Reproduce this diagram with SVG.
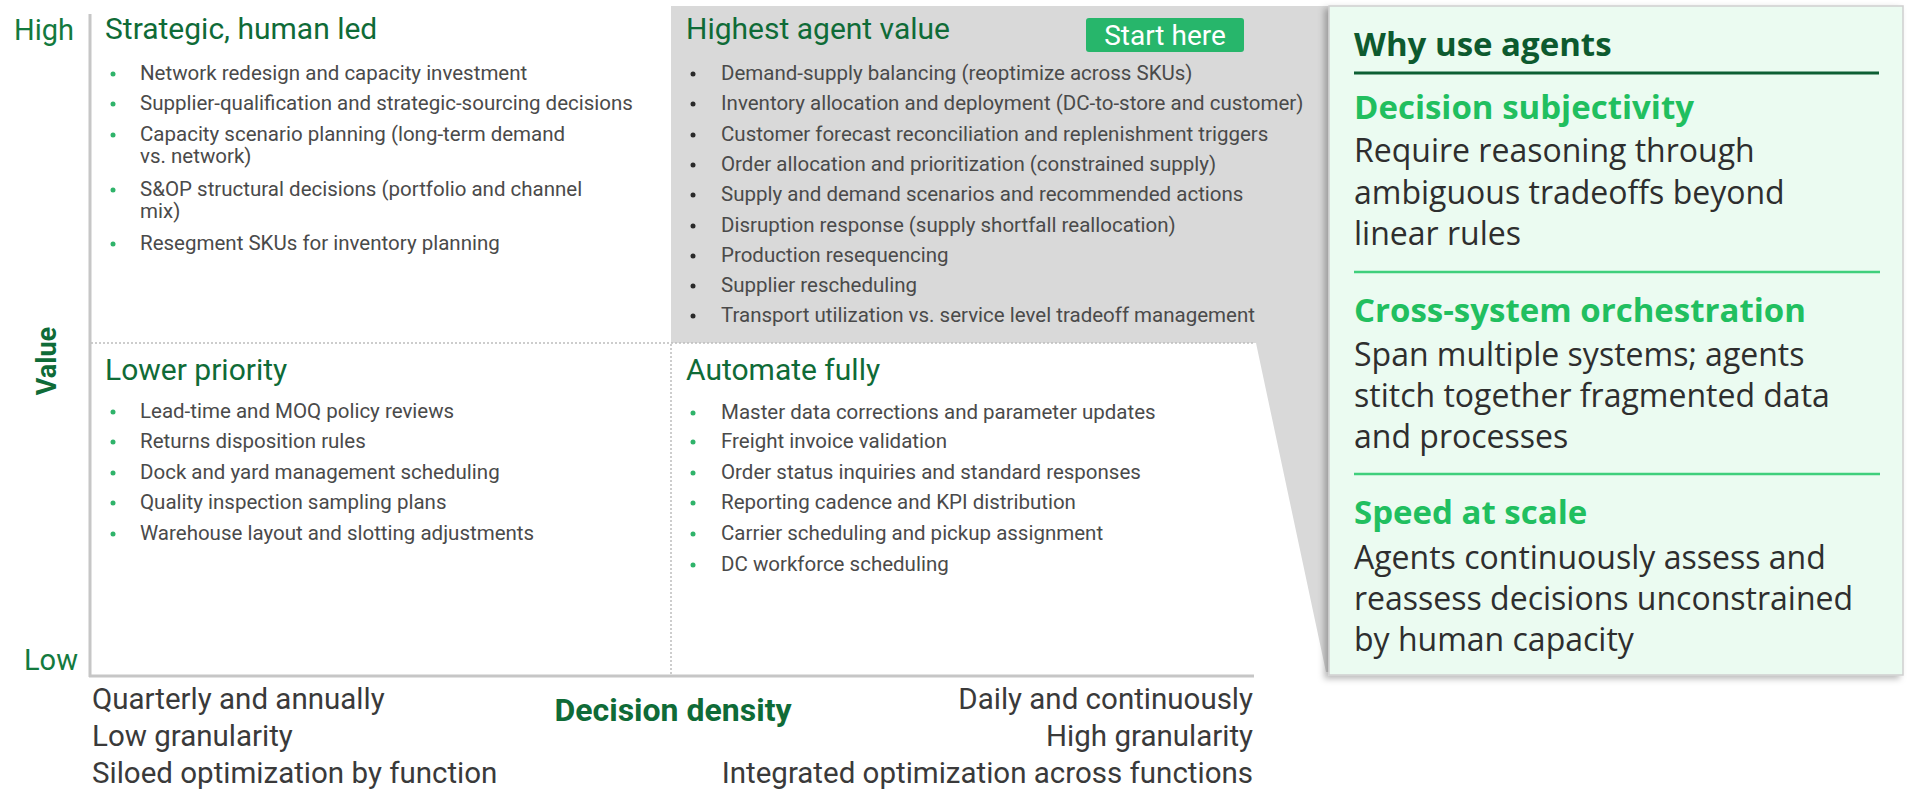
<svg xmlns="http://www.w3.org/2000/svg" width="1907" height="791" viewBox="0 0 1907 791">
  <defs>
    <style>
      text { font-family: Roboto, "Liberation Sans", sans-serif; }
      .axis-end { font-size: 29px; fill: #137a3e; }
      .axis-name { font-size: 27px; font-weight: bold; fill: #0f6b37; }
      .axis-note { font-size: 29.5px; fill: #3a3a3a; }
      .q-title { font-size: 30px; fill: #0f6b37; }
      .item { font-size: 20.5px; fill: #4a4a4a; }
      .dot-g { fill: #2fb36a; }
      .dot-k { fill: #2a2a2a; }
      .panel text { font-family: "Open Sans", Roboto, sans-serif; }
      .p-title { font-size: 33px; font-weight: bold; fill: #0d5a2f; }
      .p-head { font-size: 33px; font-weight: bold; fill: #21bf5f; }
      .p-body { font-size: 32px; fill: #2e2e2e; }
      .divider { stroke: #bdbdbd; stroke-width: 1.5; stroke-dasharray: 2 2; fill: none; }
      .axis-line { stroke: #c6c6c6; stroke-width: 3; fill: none; }
    </style>
    <filter id="panelShadow" x="-5%" y="-5%" width="112%" height="112%">
      <feDropShadow dx="-4" dy="3" stdDeviation="3" flood-color="#000" flood-opacity="0.28"/>
    </filter>
  </defs>

  <rect width="1907" height="791" fill="#ffffff"/>

  <!-- grey highlight behind the top-right quadrant, widening into the side panel -->
  <g id="highlight">
    <polygon points="671,6 1340,6 1340,672 1326,672 1256,343 671,343" fill="#d9d9d9"/>
  </g>

  <!-- axes and quadrant dividers -->
  <g id="connectors">
    <line class="axis-line" x1="90" y1="14" x2="90" y2="677"/>
    <line class="axis-line" x1="89" y1="676" x2="1254" y2="676"/>
    <line class="divider" x1="91" y1="343" x2="1254" y2="343"/>
    <line class="divider" x1="671" y1="344" x2="671" y2="675"/>
  </g>

  <!-- axis labels -->
  <g id="value-axis">
    <text class="axis-end" x="14" y="40">High</text>
    <text class="axis-end" x="24" y="670">Low</text>
    <text class="axis-name" transform="translate(56,361) rotate(-90)" text-anchor="middle">Value</text>
  </g>

  <g id="density-axis">
    <text class="axis-note" x="92" y="709">Quarterly and annually</text>
    <text class="axis-note" x="92" y="746">Low granularity</text>
    <text class="axis-note" x="92" y="783">Siloed optimization by function</text>
    <text class="axis-name" x="673" y="721" text-anchor="middle" style="font-size:32px">Decision density</text>
    <text class="axis-note" x="1253" y="709" text-anchor="end">Daily and continuously</text>
    <text class="axis-note" x="1253" y="746" text-anchor="end">High granularity</text>
    <text class="axis-note" x="1253" y="783" text-anchor="end">Integrated optimization across functions</text>
  </g>

  <!-- top-left quadrant -->
  <g id="q-strategic">
    <text class="q-title" x="105" y="39">Strategic, human led</text>
    <circle class="dot-g" cx="113" cy="74" r="2.5"/>
    <text class="item" x="140" y="80">Network redesign and capacity investment</text>
    <circle class="dot-g" cx="113" cy="104" r="2.5"/>
    <text class="item" x="140" y="110">Supplier-qualification and strategic-sourcing decisions</text>
    <circle class="dot-g" cx="113" cy="135" r="2.5"/>
    <text class="item" x="140" y="141">Capacity scenario planning (long-term demand</text>
    <text class="item" x="140" y="163">vs. network)</text>
    <circle class="dot-g" cx="113" cy="190" r="2.5"/>
    <text class="item" x="140" y="196">S&amp;OP structural decisions (portfolio and channel</text>
    <text class="item" x="140" y="218">mix)</text>
    <circle class="dot-g" cx="113" cy="244" r="2.5"/>
    <text class="item" x="140" y="250">Resegment SKUs for inventory planning</text>
  </g>

  <!-- top-right quadrant -->
  <g id="q-highest">
    <text class="q-title" x="686" y="39">Highest agent value</text>
    <rect x="1086" y="18" width="158" height="34" rx="3" fill="#27b66b"/>
    <text x="1165" y="45" text-anchor="middle" font-size="28" fill="#ffffff">Start here</text>
    <circle class="dot-k" cx="693" cy="74" r="2.5"/>
    <text class="item" x="721" y="80">Demand-supply balancing (reoptimize across SKUs)</text>
    <circle class="dot-k" cx="693" cy="104" r="2.5"/>
    <text class="item" x="721" y="110">Inventory allocation and deployment (DC-to-store and customer)</text>
    <circle class="dot-k" cx="693" cy="135" r="2.5"/>
    <text class="item" x="721" y="141">Customer forecast reconciliation and replenishment triggers</text>
    <circle class="dot-k" cx="693" cy="165" r="2.5"/>
    <text class="item" x="721" y="171">Order allocation and prioritization (constrained supply)</text>
    <circle class="dot-k" cx="693" cy="195" r="2.5"/>
    <text class="item" x="721" y="201">Supply and demand scenarios and recommended actions</text>
    <circle class="dot-k" cx="693" cy="226" r="2.5"/>
    <text class="item" x="721" y="232">Disruption response (supply shortfall reallocation)</text>
    <circle class="dot-k" cx="693" cy="256" r="2.5"/>
    <text class="item" x="721" y="262">Production resequencing</text>
    <circle class="dot-k" cx="693" cy="286" r="2.5"/>
    <text class="item" x="721" y="292">Supplier rescheduling</text>
    <circle class="dot-k" cx="693" cy="316" r="2.5"/>
    <text class="item" x="721" y="322">Transport utilization vs. service level tradeoff management</text>
  </g>

  <!-- bottom-left quadrant -->
  <g id="q-lower">
    <text class="q-title" x="105" y="380">Lower priority</text>
    <circle class="dot-g" cx="113" cy="412" r="2.5"/>
    <text class="item" x="140" y="418">Lead-time and MOQ policy reviews</text>
    <circle class="dot-g" cx="113" cy="442" r="2.5"/>
    <text class="item" x="140" y="448">Returns disposition rules</text>
    <circle class="dot-g" cx="113" cy="473" r="2.5"/>
    <text class="item" x="140" y="479">Dock and yard management scheduling</text>
    <circle class="dot-g" cx="113" cy="503" r="2.5"/>
    <text class="item" x="140" y="509">Quality inspection sampling plans</text>
    <circle class="dot-g" cx="113" cy="534" r="2.5"/>
    <text class="item" x="140" y="540">Warehouse layout and slotting adjustments</text>
  </g>

  <!-- bottom-right quadrant -->
  <g id="q-automate">
    <text class="q-title" x="686" y="380">Automate fully</text>
    <circle class="dot-g" cx="693" cy="413" r="2.5"/>
    <text class="item" x="721" y="419">Master data corrections and parameter updates</text>
    <circle class="dot-g" cx="693" cy="442" r="2.5"/>
    <text class="item" x="721" y="448">Freight invoice validation</text>
    <circle class="dot-g" cx="693" cy="473" r="2.5"/>
    <text class="item" x="721" y="479">Order status inquiries and standard responses</text>
    <circle class="dot-g" cx="693" cy="503" r="2.5"/>
    <text class="item" x="721" y="509">Reporting cadence and KPI distribution</text>
    <circle class="dot-g" cx="693" cy="534" r="2.5"/>
    <text class="item" x="721" y="540">Carrier scheduling and pickup assignment</text>
    <circle class="dot-g" cx="693" cy="565" r="2.5"/>
    <text class="item" x="721" y="571">DC workforce scheduling</text>
  </g>

  <!-- side panel -->
  <g id="why-agents" class="panel">
    <rect x="1329" y="6" width="574" height="669" fill="#ebfbf1" stroke="#cfcfcf" stroke-width="1.5" filter="url(#panelShadow)"/>
    <text class="p-title" x="1354" y="56">Why use agents</text>
    <line x1="1354" y1="73" x2="1879" y2="73" stroke="#0d5f34" stroke-width="3"/>
    <text class="p-head" x="1354" y="119">Decision subjectivity</text>
    <text class="p-body" x="1354" y="162">Require reasoning through</text>
    <text class="p-body" x="1354" y="204">ambiguous tradeoffs beyond</text>
    <text class="p-body" x="1354" y="245">linear rules</text>
    <line x1="1354" y1="272" x2="1880" y2="272" stroke="#3fcf7c" stroke-width="2.5"/>
    <text class="p-head" x="1354" y="322">Cross-system orchestration</text>
    <text class="p-body" x="1354" y="366">Span multiple systems; agents</text>
    <text class="p-body" x="1354" y="407">stitch together fragmented data</text>
    <text class="p-body" x="1354" y="448">and processes</text>
    <line x1="1354" y1="474" x2="1880" y2="474" stroke="#3fcf7c" stroke-width="2.5"/>
    <text class="p-head" x="1354" y="524">Speed at scale</text>
    <text class="p-body" x="1354" y="569">Agents continuously assess and</text>
    <text class="p-body" x="1354" y="610">reassess decisions unconstrained</text>
    <text class="p-body" x="1354" y="651">by human capacity</text>
  </g>
</svg>
